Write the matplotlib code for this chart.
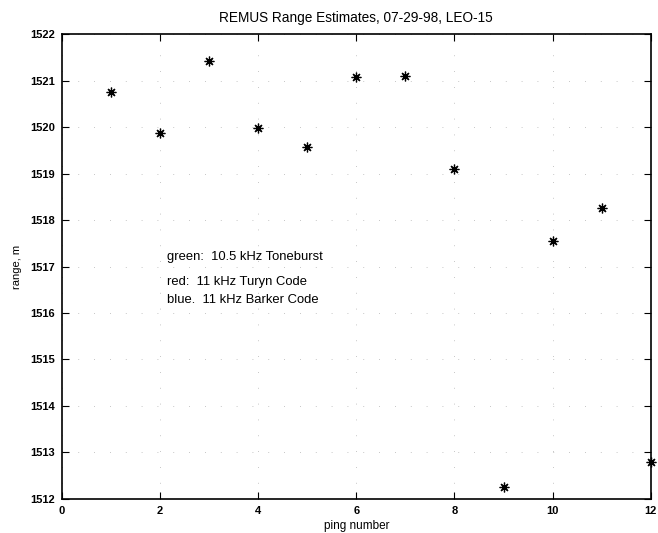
import numpy as np
import matplotlib
matplotlib.use('Agg')
import matplotlib.pyplot as plt

plt.rcParams['font.family'] = ['Liberation Sans', 'DejaVu Sans']

# ---- data ----
ping = [1, 2, 3, 4, 5, 6, 7, 8, 9, 10, 11, 12]
range_m = [1520.75, 1519.88, 1521.42, 1519.98, 1519.58, 1521.08,
           1521.10, 1519.10, 1512.25, 1517.55, 1518.25, 1512.80]
notes = ['green:  10.5 kHz Toneburst',
         'red:  11 kHz Turyn Code',
         'blue.  11 kHz Barker Code']
note_y = [1517.2, 1516.67, 1516.27]

fig = plt.figure(figsize=(6.58, 5.33), dpi=100)
ax = fig.add_axes([0.094, 0.064, 0.895, 0.872])

# matlab style '*' marker (asterisk)
ax.plot(ping, range_m, linestyle='none', marker=(8, 2, 0), color='black',
        markersize=7, markeredgewidth=0.9, clip_on=False)

for t, y in zip(notes, note_y):
    ax.text(2.14, y, t, fontsize=9.4, va='center', ha='left')

ax.set_xlim(0, 12)
ax.set_ylim(1512, 1522)
ax.set_xticks(np.arange(0, 13, 2))
ax.set_yticks(np.arange(1512, 1523, 1))
ax.tick_params(direction='in', top=True, right=True, labelsize=8, length=5)
ax.tick_params(axis='x', pad=5)
ax.tick_params(axis='y', pad=5)
for lab in ax.get_xticklabels() + ax.get_yticklabels():
    lab.set_fontweight('bold')
ax.ticklabel_format(useOffset=False)

# faint dotted grid, most dots lost in the scan
ax.grid(True, color='0.7', linewidth=0.6, linestyle=(0, (1, 18)))

for s in ax.spines.values():
    s.set_linewidth(1.2)

ax.set_title('REMUS Range Estimates, 07-29-98, LEO-15', fontsize=9.8, pad=9)
ax.set_xlabel('ping number', fontsize=8.5, labelpad=3)
ax.set_ylabel('range, m', fontsize=8, labelpad=6)

fig.savefig('out.png', dpi=100)
